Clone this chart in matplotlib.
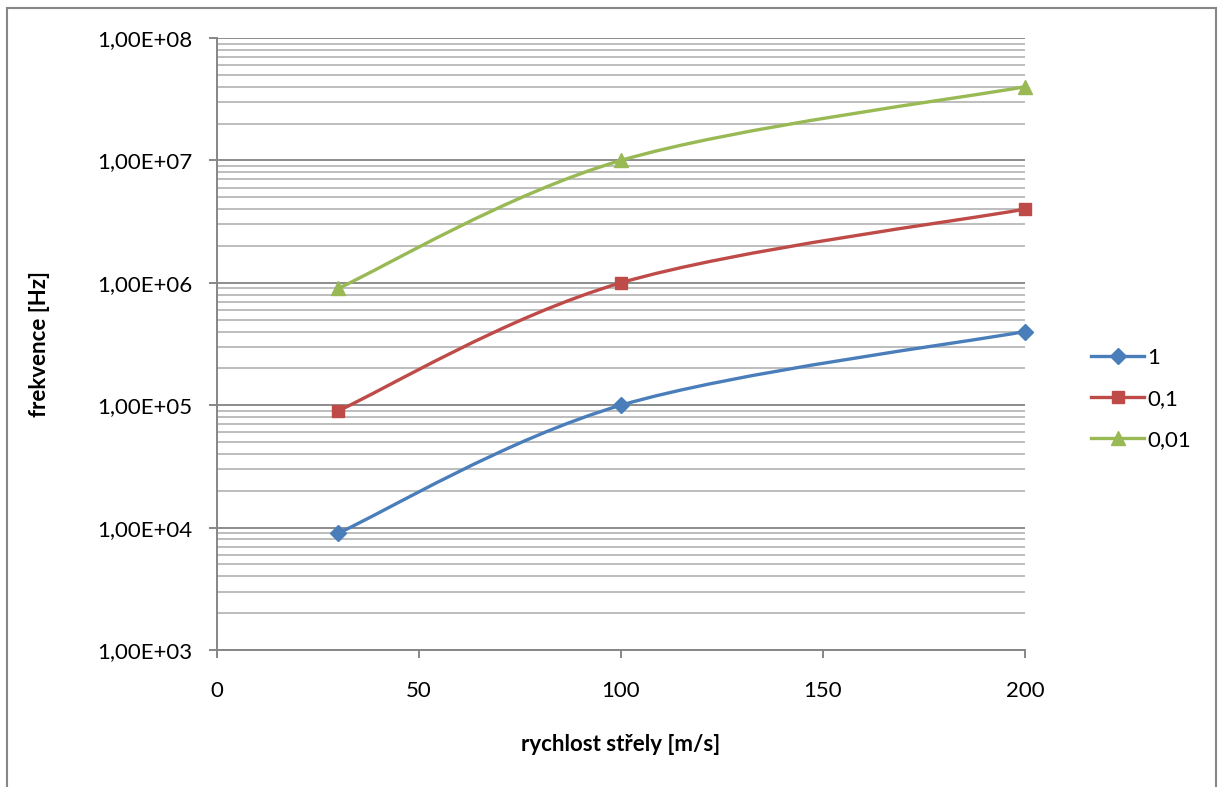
import numpy as np
import matplotlib.pyplot as plt
from matplotlib.path import Path
from matplotlib.patches import PathPatch, Rectangle
from matplotlib.lines import Line2D
from matplotlib.ticker import FixedLocator, LogLocator, NullFormatter

plt.rcParams['font.family'] = ['Lato', 'DejaVu Sans']

# data
rychlost = [30, 100, 200]
series_names = ['1', '0,1', '0,01']
frekvence_1 = [9.0e3, 1.0e5, 4.0e5]
frekvence_01 = [9.0e4, 1.0e6, 4.0e6]
frekvence_001 = [9.0e5, 1.0e7, 4.0e7]
ytick_vals = [1e3, 1e4, 1e5, 1e6, 1e7, 1e8]
ytick_labels = ['1,00E+03', '1,00E+04', '1,00E+05', '1,00E+06', '1,00E+07', '1,00E+08']
xtick_vals = [0, 50, 100, 150, 200]
xtick_labels = ['0', '50', '100', '150', '200']

colors = ['#4A7EBB', '#BE4B48', '#98B954']
markers = ['D', 's', '^']
msizes = [8.5, 8.5, 10.5]


def smooth_path(xs, ys):
    # Excel-like smoothing: cubic bezier (Catmull-Rom) in x / log10(y) space
    pts = np.column_stack([np.asarray(xs, float), np.log10(ys)])
    n = len(pts)
    verts = [pts[0]]
    codes = [Path.MOVETO]
    for i in range(n - 1):
        p_prev = pts[i - 1] if i > 0 else pts[i]
        p_next = pts[i + 2] if i + 2 < n else pts[i + 1]
        c1 = pts[i] + (pts[i + 1] - p_prev) / 6
        c2 = pts[i + 1] - (p_next - pts[i]) / 6
        verts += [c1, c2, pts[i + 1]]
        codes += [Path.CURVE4] * 3
    verts = np.array(verts)
    verts[:, 1] = 10 ** verts[:, 1]
    return Path(verts, codes)


fig = plt.figure(figsize=(12.25, 7.87), dpi=100)
ax = fig.add_axes([217 / 1225, 1 - 650 / 787, (1025 - 217) / 1225, (650 - 38) / 787])

ax.set_yscale('log')
ax.set_xlim(0, 200)
ax.set_ylim(1e3, 1e8)

all_series = [frekvence_1, frekvence_01, frekvence_001]
handles = []
for vals, c, m, ms, name in zip(all_series, colors, markers, msizes, series_names):
    patch = PathPatch(smooth_path(rychlost, vals), fill=False, edgecolor=c,
                      lw=2.4, transform=ax.transData, zorder=3, capstyle='round')
    ax.add_patch(patch)
    ax.plot(rychlost, vals, linestyle='none', marker=m, markersize=ms,
            color=c, zorder=4, clip_on=False)
    handles.append(Line2D([], [], color=c, lw=2.4, marker=m, markersize=ms, label=name))

# grid
ax.yaxis.set_major_locator(FixedLocator(ytick_vals))
ax.set_yticklabels(ytick_labels)
ax.yaxis.set_minor_locator(LogLocator(base=10, subs=np.arange(2, 10), numticks=20))
ax.yaxis.set_minor_formatter(NullFormatter())
ax.grid(which='major', axis='y', color='#8c8c8c', lw=1.4, zorder=1)
ax.grid(which='minor', axis='y', color='#bdbdbd', lw=1.4, zorder=1)
ax.set_axisbelow(True)

ax.set_xticks(xtick_vals)
ax.set_xticklabels(xtick_labels)

for s in ['top', 'right']:
    ax.spines[s].set_visible(False)
for s in ['left', 'bottom']:
    ax.spines[s].set_color('#868686')
    ax.spines[s].set_linewidth(1.4)

ax.tick_params(axis='both', which='major', direction='out', length=6, width=1.4,
               color='#868686', labelsize=16)
ax.tick_params(axis='y', which='minor', length=0)
ax.tick_params(axis='y', which='major', pad=12)
ax.tick_params(axis='x', which='major', pad=16)

ax.set_xlabel('rychlost střely [m/s]', fontsize=16, fontweight='bold', labelpad=24)
ax.set_ylabel('frekvence [Hz]', fontsize=16, fontweight='bold', labelpad=34)

fig.legend(handles=handles, loc='center left', frameon=False, fontsize=16,
           bbox_to_anchor=(1080 / 1225, 1 - 399 / 787), handlelength=2.4,
           handletextpad=0.12, labelspacing=0.95, borderpad=0)

# outer chart frame (bottom runs off the image)
fig.patches.append(Rectangle((7 / 1225, -0.1), (1216 - 7) / 1225, 1 - 8 / 787 + 0.1,
                             transform=fig.transFigure, fill=False,
                             edgecolor='#868686', lw=1.5))

fig.savefig('out.png', dpi=100)
